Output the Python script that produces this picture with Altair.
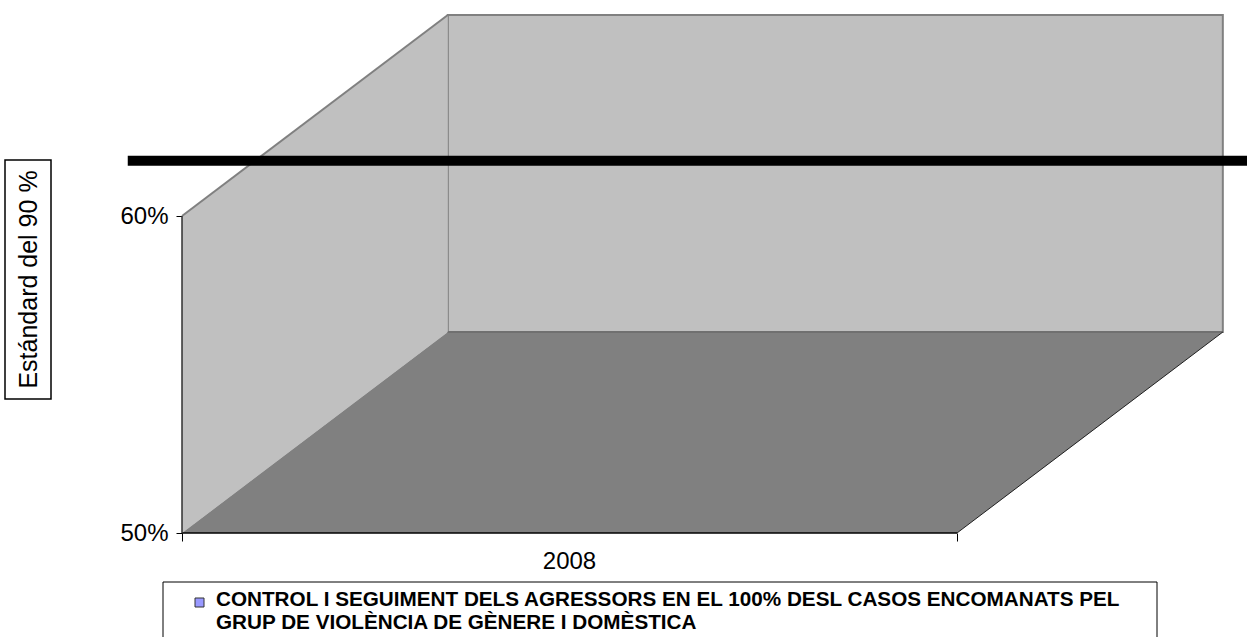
import altair as alt
import pandas as pd

# ---- chart content -------------------------------------------------------
categories = ["2008"]
series_lines = [
    "CONTROL I SEGUIMENT DELS AGRESSORS EN EL 100% DESL CASOS ENCOMANATS PEL",
    "GRUP DE VIOLÈNCIA DE GÈNERE I DOMÈSTICA",
]
value_axis_title = "Estándard del 90 %"

# value axis (fractions shown as percentages)
y_ticks = [0.5, 0.6]
y_min, y_max = 0.5, 0.6

# 3-D depth of the walls: in category widths (x) and value units (y)
depth_x = 0.343
depth_y = 0.0634

# level and left start of the thick standard line
standard_level = 0.6174
standard_from = -0.07

# ---- scales and axes -------------------------------------------------------
PLOT_W, PLOT_H = 1065, 533
X_MAX = PLOT_W / 775.0          # one category spans 775 px
Y_TOP = y_min + PLOT_H / 3170.0  # 10 percentage points span 317 px

FONT = "Liberation Sans"
xs = alt.Scale(domain=[0, X_MAX], nice=False, zero=False)
ys = alt.Scale(domain=[y_min, Y_TOP], nice=False, zero=False)

x_axis = alt.Axis(
    values=[0, 1], labels=False, domain=False, grid=False,
    tickSize=8, tickColor="black", tickWidth=1, title=None,
)
y_axis = alt.Axis(
    values=y_ticks, format=".0%", domain=False, grid=False,
    tickSize=6, tickColor="black", tickWidth=1,
    labelFont=FONT, labelFontSize=24, labelColor="black",
    labelPadding=8, title=None,
)


def X(field):
    return alt.X(field, scale=xs, axis=x_axis)


def Y(field):
    return alt.Y(field, scale=ys, axis=y_axis)


WALL = "#C0C0C0"
FLOOR = "#808080"
EDGE = "#808080"

# back wall
back = pd.DataFrame({
    "x": [depth_x], "x2": [1 + depth_x],
    "y": [y_min + depth_y], "y2": [y_max + depth_y],
})
back_wall = alt.Chart(back).mark_rect(fill=WALL, stroke=EDGE, strokeWidth=2).encode(
    x=X("x:Q"), x2="x2:Q", y=Y("y:Q"), y2="y2:Q",
)

# side wall (parallelogram between the value axis and the back wall)
side = pd.DataFrame({
    "x": [0, depth_x],
    "lo": [y_min, y_min + depth_y],
    "hi": [y_max, y_max + depth_y],
})
side_wall = alt.Chart(side).mark_area(color=WALL, opacity=1).encode(
    x=X("x:Q"), y=Y("lo:Q"), y2="hi:Q",
)

# floor
floor = pd.DataFrame({
    "x": [0, depth_x, 1, 1 + depth_x],
    "lo": [y_min, y_min, y_min, y_min + depth_y],
    "hi": [y_min, y_min + depth_y, y_min + depth_y, y_min + depth_y],
})
floor_area = alt.Chart(floor).mark_area(color=FLOOR, opacity=1).encode(
    x=X("x:Q"), y=Y("lo:Q"), y2="hi:Q",
)

# wall and axis edges
edges = pd.DataFrame([
    {"x": 0, "y": y_max, "x2": depth_x, "y2": y_max + depth_y, "c": EDGE, "w": 2},
    {"x": depth_x, "y": y_min + depth_y, "x2": 1 + depth_x, "y2": y_min + depth_y, "c": "#707070", "w": 2},
    {"x": 1, "y": y_min, "x2": 1 + depth_x, "y2": y_min + depth_y, "c": "#202020", "w": 1},
    {"x": 0, "y": y_min, "x2": 1, "y2": y_min, "c": "black", "w": 1.5},
    {"x": 0, "y": y_min, "x2": 0, "y2": y_max, "c": "#303030", "w": 1.5},
])
edge_rules = alt.Chart(edges).mark_rule().encode(
    x=X("x:Q"), x2="x2:Q", y=Y("y:Q"), y2="y2:Q",
    color=alt.Color("c:N", scale=None),
    size=alt.Size("w:Q", scale=None),
)

# category label under the floor
cat_df = pd.DataFrame({
    "cat": categories,
    "pos": [i + 0.5 for i in range(len(categories))],
    "base": [y_min] * len(categories),
})
cat_labels = alt.Chart(cat_df).mark_text(
    font=FONT, fontSize=24, color="black", baseline="top", dy=17
).encode(x=X("pos:Q"), y=Y("base:Q"), text="cat:N")

# thick standard line
std_df = pd.DataFrame({"x": [standard_from], "x2": [X_MAX], "y": [standard_level]})
standard = alt.Chart(std_df).mark_rule(color="black", strokeWidth=10, strokeCap="butt").encode(
    x=X("x:Q"), x2="x2:Q", y=Y("y:Q"),
)

# boxed, rotated value-axis title
one = pd.DataFrame({"k": [0]})
title_box = alt.Chart(one).mark_rect(fill="white", stroke="black", strokeWidth=1.5).encode(
    x=alt.value(-177), x2=alt.value(-131), y=alt.value(160), y2=alt.value(399),
)
title_text = alt.Chart(one).mark_text(
    text=value_axis_title, font=FONT, fontSize=25, angle=270,
    align="center", baseline="middle", color="black",
).encode(x=alt.value(-153), y=alt.value(279.5))

# legend
legend_box = alt.Chart(one).mark_rect(fill="white", stroke="black", strokeWidth=1).encode(
    x=alt.value(-19), x2=alt.value(975), y=alt.value(582), y2=alt.value(660),
)
legend_swatch = alt.Chart(one).mark_rect(fill="#9999FF", stroke="#333333", strokeWidth=1).encode(
    x=alt.value(13), x2=alt.value(22), y=alt.value(598), y2=alt.value(607),
)
legend_l1 = alt.Chart(one).mark_text(
    text=series_lines[0], font=FONT, fontSize=20.7, fontWeight="bold",
    align="left", baseline="middle", color="black",
).encode(x=alt.value(34), y=alt.value(599.5))
legend_l2 = alt.Chart(one).mark_text(
    text=series_lines[1], font=FONT, fontSize=20.7, fontWeight="bold",
    align="left", baseline="middle", color="black",
).encode(x=alt.value(34), y=alt.value(623))

chart = alt.layer(
    back_wall, side_wall, floor_area, edge_rules, cat_labels, standard,
    title_box, title_text, legend_box, legend_swatch, legend_l1, legend_l2,
).properties(
    width=PLOT_W, height=PLOT_H,
    autosize=alt.AutoSizeParams(type="none"),
    padding={"left": 182, "top": 0, "right": 0, "bottom": 104},
).configure(font=FONT, background="white").configure_view(stroke=None)

chart.save("out.html", embed_options={"renderer": "svg", "actions": False})
